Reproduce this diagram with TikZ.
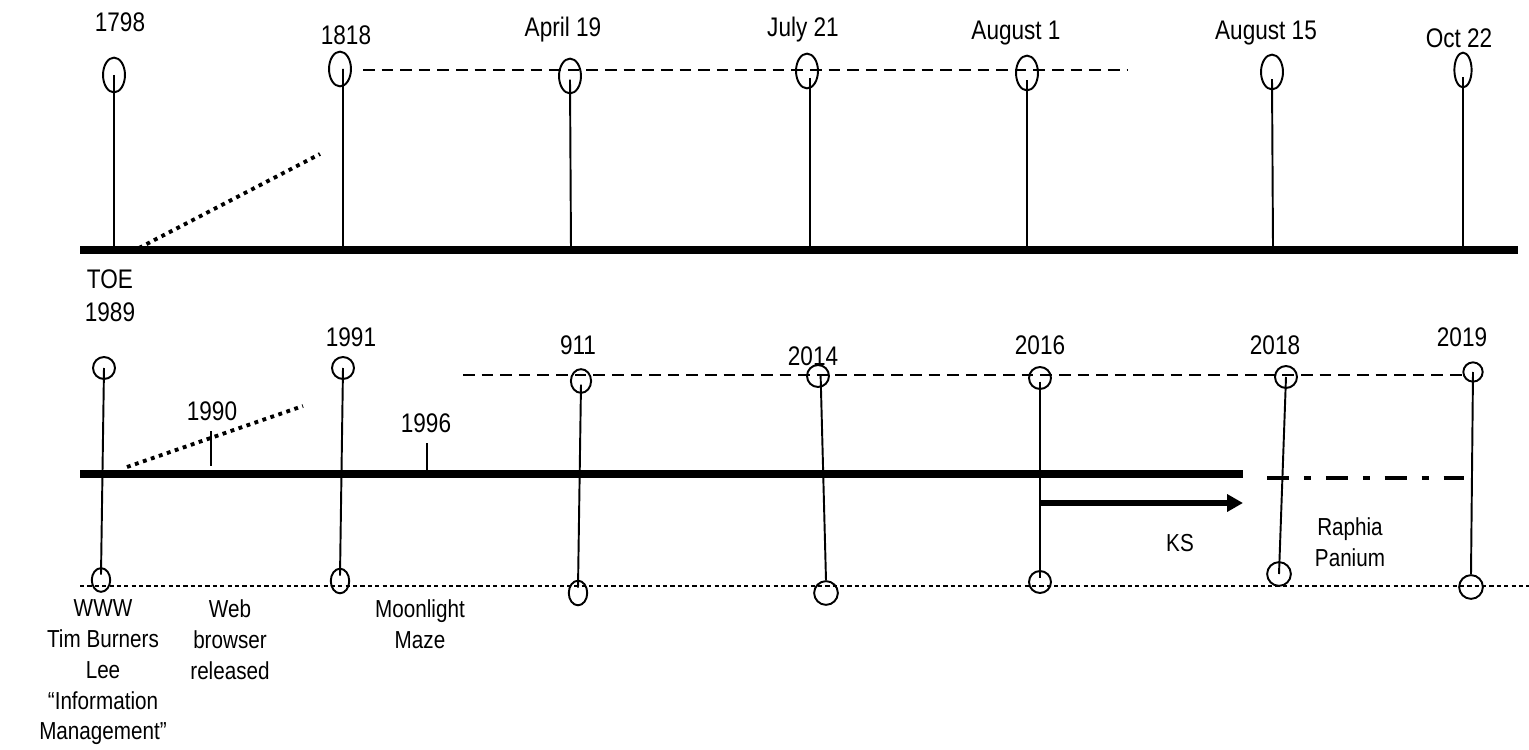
\documentclass[tikz,border=0pt]{standalone}
\usepackage{fontspec}
\setmainfont{Liberation Sans}[FakeStretch=0.84]
\usetikzlibrary{shapes.geometric,arrows.meta}
\begin{document}
\begin{tikzpicture}[x=0.02cm,y=-0.02cm,
  yr/.style={font=\fontsize{15.3}{18.7}\selectfont, inner sep=0pt, align=center},
  evtext/.style={font=\fontsize{14}{17.6}\selectfont, inner sep=0pt, align=center},
  bulb/.style={draw, ellipse, line width=1.1pt, inner sep=0pt, minimum width=12.5pt, minimum height=19.8pt},
  knob/.style={draw, ellipse, line width=1.1pt, inner sep=0pt, minimum width=12.5pt, minimum height=12.5pt},
  stem/.style={line width=1.1pt},
  axis/.style={line width=4.3pt},
  dots/.style={line width=2.2pt, dash pattern=on 2.2pt off 2.6pt},
  gapline/.style={line width=1.1pt, dash pattern=on 6.6pt off 4pt},
  thinline/.style={line width=0.6pt, dash pattern=on 2.4pt off 1.8pt}]
\useasboundingbox (0,0) rectangle (1529,750);

\coordinate (tl) at (80,250);
\coordinate (tr) at (1518,250);
\draw[axis] (tl) -- (tr);
\coordinate (tdl) at (363,70);
\coordinate (tdr) at (1128,70);
\draw[gapline] (tdl) -- (tdr);
\coordinate (tsl) at (139,248);
\coordinate (tsr) at (320,154);
\draw[dots] (tsl) -- (tsr);

\node[yr] (t1798) at (120,22) {1798};
\node[bulb] (b1798) at (114,75) {};
\coordinate (a1798) at (114,250);
\draw[stem] (b1798.center) -- (a1798);

\node[yr] (t1818) at (346,35) {1818};
\node[bulb] (b1818) at (340,69) {};
\coordinate (a1818) at (343,250);
\draw[stem] ([xshift=1.7pt]b1818.center) -- (a1818);

\node[yr] (tapr) at (563,30) {April 19};
\node[bulb] (bapr) at (570,76) {};
\coordinate (aapr) at (571,250);
\draw[stem] ([yshift=-2pt]bapr.center) -- (aapr);

\node[yr] (tjul) at (803,30) {July 21};
\node[bulb] (bjul) at (807,71) {};
\coordinate (ajul) at (810,250);
\draw[stem] ([xshift=1.7pt,yshift=-4pt]bjul.center) -- (ajul);

\node[yr] (taug) at (1016,33) {August 1};
\node[bulb] (baug) at (1027,73) {};
\coordinate (aaug) at (1027,250);
\draw[stem] ([yshift=-4pt]baug.center) -- (aaug);

\node[yr] (tmid) at (1266,33) {August 15};
\node[bulb] (bmid) at (1272,72) {};
\coordinate (amid) at (1273,246);
\draw[stem] ([yshift=-4pt]bmid.center) -- (amid);

\node[yr] (toct) at (1459,38) {Oct 22};
\node[bulb, minimum width=9.8pt] (boct) at (1463,70) {};
\coordinate (aoct) at (1463,250);
\draw[stem] ([yshift=-4pt]boct.center) -- (aoct);

\coordinate (bl) at (80,474);
\coordinate (br) at (1243,474);
\draw[axis] (bl) -- (br);
\coordinate (bdl) at (1267,478);
\coordinate (bdr) at (1464,478);
\draw[line width=2.7pt, dash pattern=on 12.5pt off 8.5pt on 4pt off 8.5pt] (bdl) -- (bdr);
\coordinate (udl) at (463,375);
\coordinate (udr) at (1465,375);
\draw[gapline] (udl) -- (udr);
\coordinate (ll) at (80,586);
\coordinate (lr) at (1529,586);
\draw[thinline] (ll) -- (lr);
\coordinate (bsl) at (127,467);
\coordinate (bsr) at (303,406);
\draw[dots] (bsl) -- (bsr);

\node[yr] (tk1990) at (212,411) {1990};
\coordinate (k1990a) at (211,431);
\coordinate (k1990b) at (211,466);
\draw[line width=0.6pt] (k1990a) -- (k1990b);
\node[yr] (tk1996) at (426,423) {1996};
\coordinate (k1996a) at (427,443);
\coordinate (k1996b) at (427,470);
\draw[line width=0.6pt] (k1996a) -- (k1996b);

\node[yr] (t1989) at (110,296) {TOE\\1989};
\node[knob] (c1989) at (104,368) {};
\node[knob, minimum width=10.5pt, minimum height=13.5pt] (e1989) at (101,580) {};
\draw[stem] (c1989.center) -- ([yshift=3pt]e1989.center);

\node[yr] (t1991) at (351,337) {1991};
\node[knob] (c1991) at (343,368) {};
\node[knob, minimum width=10.5pt, minimum height=14pt] (e1991) at (340,581) {};
\draw[stem] (c1991.center) -- ([yshift=3pt]e1991.center);

\node[yr] (t911) at (578,345) {911};
\node[knob, minimum width=11.5pt, minimum height=13.5pt] (c911) at (581,381) {};
\node[knob, minimum width=10.5pt, minimum height=14pt] (e911) at (578,593) {};
\draw[stem] ([yshift=-2pt]c911.center) -- ([yshift=3pt]e911.center);

\node[yr] (t2014) at (813,356) {2014};
\node[knob] (c2014) at (818,376) {};
\node[knob, minimum size=13.5pt] (e2014) at (826,593) {};
\draw[stem] ([xshift=1.5pt]c2014.center) -- (e2014.north);

\node[yr] (t2016) at (1040,345) {2016};
\node[knob] (c2016) at (1040,378) {};
\node[knob] (e2016) at (1040,582) {};
\draw[stem] ([yshift=-2pt]c2016.center) -- ([yshift=2pt]e2016.center);

\node[yr] (t2018) at (1275,345) {2018};
\node[knob] (c2018) at (1286,377) {};
\node[knob, minimum size=13.5pt] (e2018) at (1279,574) {};
\draw[stem] (c2018.center) -- (e2018.center);

\node[yr] (t2019) at (1462,337) {2019};
\node[knob, minimum size=11pt] (c2019) at (1473,372) {};
\node[knob, minimum size=13.5pt] (e2019) at (1471,587) {};
\draw[stem] (c2019.center) -- (e2019.north);

\coordinate (ks) at (1243,503);
\draw[line width=3.2pt, -{Triangle[length=9pt,width=9.5pt]}] (c2016.center |- ks) -- (ks);
\node[evtext] (tks) at (1180,543) {KS};
\node[evtext] (traph) at (1350,542) {Raphia\\Panium};

\node[evtext, anchor=north] (www) at (103,599) {WWW\\Tim Burners\\Lee\\“Information\\Management”};
\node[evtext, anchor=north] (web) at (230,599) {Web\\browser\\released};
\node[evtext, anchor=north] (moon) at (420,599) {Moonlight\\Maze};
\end{tikzpicture}
\end{document}
